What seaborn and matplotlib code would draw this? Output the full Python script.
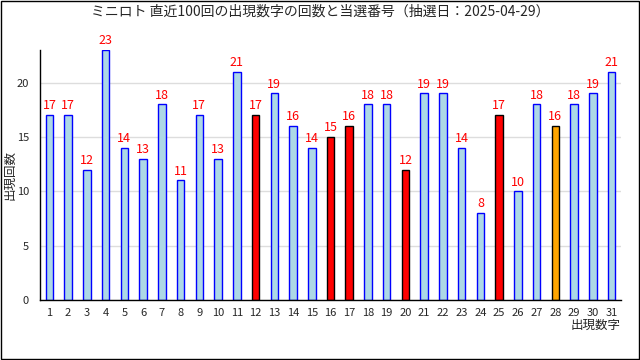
import matplotlib
matplotlib.use("Agg")
import matplotlib.pyplot as plt
import seaborn as sns
import numpy as np
import pandas as pd
from matplotlib.patches import Rectangle

# data
numbers = list(range(1, 32))
counts = [17, 17, 12, 23, 14, 13, 18, 11, 17, 13, 21, 17, 19, 16, 14, 15,
          16, 18, 18, 12, 19, 19, 14, 8, 17, 10, 18, 16, 18, 19, 21]
winning = [12, 16, 17, 20, 25]
bonus = [28]

title = "ミニロト 直近100回の出現数字の回数と当選番号（抽選日：2025-04-29）"

sns.set_style("white")
plt.rcParams['font.family'] = ['Noto Sans CJK JP', 'DejaVu Sans']

df = pd.DataFrame({'num': [str(n) for n in numbers], 'count': counts})

fills, edges = [], []
for n in numbers:
    if n in winning:
        fills.append('#ff0000'); edges.append('black')
    elif n in bonus:
        fills.append('#ffa500'); edges.append('black')
    else:
        fills.append('#add8e6'); edges.append('#0000ff')

fig = plt.figure(figsize=(6.4, 3.6), dpi=100)
ax = fig.add_axes([40/640, 1-300/360, 581/640, 250/360])

sns.barplot(data=df, x='num', y='count', hue='num', palette=fills,
            legend=False, width=0.4, ax=ax, linewidth=1.0, saturation=1)
for patch, ec in zip(ax.patches, edges):
    patch.set_edgecolor(ec)

for c in ax.containers:
    ax.bar_label(c, color='red', fontsize=9, padding=2)

ax.set_xlim(-0.5, len(numbers) - 0.5)
ax.set_ylim(0, 23)
ax.set_yticks([0, 5, 10, 15, 20])
ax.yaxis.grid(True, color='#dddddd', linewidth=1)
ax.set_axisbelow(True)

for s in ['top', 'right']:
    ax.spines[s].set_visible(False)
for s in ['left', 'bottom']:
    ax.spines[s].set_color('black')
    ax.spines[s].set_linewidth(1)

ax.tick_params(axis='x', which='major', length=0, pad=6, labelsize=8)
ax.tick_params(axis='y', length=0, pad=8, labelsize=8)
ax.set_xticks(np.arange(-0.5, len(numbers)), minor=True)
ax.tick_params(axis='x', which='minor', direction='in', length=4, color='black')

ax.set_xlabel('')
ax.set_ylabel('出現回数', fontsize=9)
ax.yaxis.set_label_coords(-0.04, 0.5)
fig.text(621/640, 1-325/360, '出現数字', ha='right', va='center', fontsize=9)
fig.text(0.5, 1-12/360, title, ha='center', va='center', fontsize=10)

fig.patches.append(Rectangle((0.001, 0.002), 0.997, 0.995, transform=fig.transFigure,
                             fill=False, edgecolor='black', linewidth=1))

fig.savefig('out.png', dpi=100)
